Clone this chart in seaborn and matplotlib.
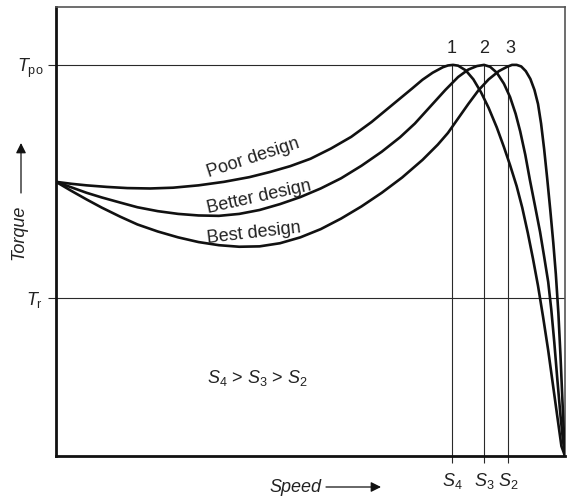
import numpy as np
import pandas as pd
import matplotlib
matplotlib.use("Agg")
import matplotlib.pyplot as plt
import seaborn as sns

# ---------------- data (speed in % of sync speed, torque in % of pull-out torque)
poor_speed = [0, 3, 6, 10, 14, 18.5, 23, 28, 33, 38, 42, 46, 50, 54, 58, 62, 66, 70, 72, 74, 76,
              77, 78, 79, 80.5, 82, 83.5, 85, 86.6, 88, 89.2, 90.5, 91.6, 92.7, 93.7, 94.7, 95.7,
              96.7, 97.6, 98.5, 99.3, 100]
poor_torque = [70.1, 69.6, 69.2, 68.8, 68.5, 68.4, 68.6, 69.2, 70.1, 71.3, 72.6, 74.1, 76.0, 78.6,
               81.6, 85.4, 89.7, 94.0, 96.2, 98.0, 99.4, 99.85, 100, 99.8, 98.6, 96.3, 93.0, 89.0,
               84.0, 79.0, 74.4, 69.0, 63.5, 57.0, 50.5, 43.5, 35.5, 27.0, 18.5, 10.0, 2.5, 0]

better_speed = [0, 3, 6, 9, 12.6, 16, 20, 24, 28, 32, 36, 40, 44, 48, 52, 56, 60, 64, 67.6, 70.5,
                73.5, 76.5, 79, 81, 82.7, 84.1, 85.3, 86.6, 88, 89.2, 90.3, 91.2, 92.2, 93.1, 94.1,
                95.1, 95.9, 96.7, 97.3, 97.9, 98.5, 99.1, 99.6, 100]
better_torque = [70.1, 68.7, 67.3, 66.1, 64.8, 63.6, 62.6, 61.9, 61.5, 61.4, 61.9, 62.9, 64.4, 66.2,
                 68.4, 71.0, 74.2, 77.8, 81.5, 85.0, 89.3, 93.6, 96.9, 98.8, 99.7, 100, 99.5, 98.0,
                 95.2, 91.8, 87.5, 83.0, 77.0, 70.6, 64.0, 57.3, 51.0, 44.5, 37.5, 29.0, 19.5, 10.5,
                 4.0, 0]

best_speed = [0, 3, 6, 9, 12.6, 16, 20, 24, 28, 32, 36, 40, 44, 48, 52, 56, 60, 64, 68, 72, 75,
              77, 79, 81, 83, 85, 87, 88.6, 89.6, 90.5, 91.4, 92.3, 93.2, 94.0, 94.7, 95.3, 95.9,
              96.5, 97.1, 97.7, 98.2, 98.7, 99.1, 99.4, 99.7, 100]
best_torque = [70.1, 67.8, 65.6, 63.5, 61.2, 59.2, 57.4, 55.9, 54.7, 53.9, 53.5, 53.6, 54.4, 55.9,
               58.0, 60.7, 63.8, 67.3, 71.2, 75.7, 79.6, 82.6, 86.3, 90.0, 93.5, 96.3, 98.4, 99.5,
               100, 100, 99.6, 98.4, 96.4, 93.6, 90.0, 85.0, 78.5, 71.0, 63.0, 54.5, 46.5, 36.5,
               26.0, 17.0, 8.0, 0]

curve_names = ["Poor design", "Better design", "Best design"]
curve_numbers = ["1", "2", "3"]

T_po = 100.0
T_r = 40.4
S_values = [77.8, 84.1, 88.8]              # S4, S3, S2
S_labels = [r"$S_4$", r"$S_3$", r"$S_2$"]
T_labels = [r"$T_{\mathrm{po}}$", r"$T_{\mathrm{r}}$"]

# ---------------- style
sns.set_theme(style="white")
plt.rcParams["font.family"] = ["Liberation Sans", "DejaVu Sans"]
plt.rcParams["mathtext.fontset"] = "custom"
plt.rcParams["mathtext.rm"] = "Liberation Sans"
plt.rcParams["mathtext.it"] = "Liberation Sans:italic"
plt.rcParams["mathtext.default"] = "it"

W, H = 571, 498
fig = plt.figure(figsize=(W / 100, H / 100), dpi=100)
ax = fig.add_axes([56 / W, 1 - 456 / H, (565 - 56) / W, (456 - 7) / H])
ax.set_xlim(0, 100)
ax.set_ylim(0, 114.8)

txt_col = "#222222"
thin_col = "#2a2a2a"

# reference lines
ax.axhline(T_r, color=thin_col, lw=0.8, zorder=1)
ax.plot([0, S_values[2]], [T_po, T_po], color=thin_col, lw=0.8, zorder=1)
ax.vlines(S_values, 0, T_po, color=thin_col, lw=0.8, zorder=1)

# curves
df = pd.concat([
    pd.DataFrame({"speed": poor_speed, "torque": poor_torque, "design": curve_names[0]}),
    pd.DataFrame({"speed": better_speed, "torque": better_torque, "design": curve_names[1]}),
    pd.DataFrame({"speed": best_speed, "torque": best_torque, "design": curve_names[2]}),
])
sns.lineplot(data=df, x="speed", y="torque", hue="design", sort=False,
             palette=["#111111"] * 3, lw=1.9, legend=False, ax=ax, zorder=3)
for ln in ax.get_lines():
    ln.set_solid_joinstyle("round")

# curve numbers above vertical lines
num_x = [S_values[0], S_values[1], S_values[2] + 0.5]
for xv, n in zip(num_x, curve_numbers):
    ax.text(xv, 104.3, n, ha="center", va="center", fontsize=13, color=txt_col)

# ticks
ax.set_xticks(S_values)
ax.set_xticklabels(S_labels)
ax.set_yticks([T_po, T_r])
ax.set_yticklabels(T_labels)
ax.tick_params(axis="x", direction="out", length=5, width=0.8, color=thin_col,
               pad=6, labelsize=13, labelcolor=txt_col, bottom=True)
ax.tick_params(axis="y", direction="out", length=6, width=0.8, color=thin_col,
               pad=3, labelsize=13, labelcolor=txt_col, left=True)
ax.set_xlabel("")
ax.set_ylabel("")

# spines
for s in ["left", "bottom"]:
    ax.spines[s].set_color("#111111")
    ax.spines[s].set_linewidth(2.0)
for s in ["top", "right"]:
    ax.spines[s].set_color("#555555")
    ax.spines[s].set_linewidth(1.2)


def F(px, py):
    return (px / W, 1 - py / H)


# curve labels
fig.text(*F(253, 158), "Poor design", rotation=18, ha="center", va="center",
         fontsize=13, color=txt_col, rotation_mode="anchor")
fig.text(*F(259, 197), "Better design", rotation=12.5, ha="center", va="center",
         fontsize=13, color=txt_col, rotation_mode="anchor")
fig.text(*F(254, 233), "Best design", rotation=6.5, ha="center", va="center",
         fontsize=13, color=txt_col, rotation_mode="anchor")
fig.text(*F(257, 378), r"$S_4$ > $S_3$ > $S_2$", ha="center", va="center",
         fontsize=13, color=txt_col)

# axis titles with arrows
fig.text(*F(19, 232), "Torque", rotation=90, ha="center", va="center",
         fontsize=13, style="italic", color=txt_col)
fig.add_artist(matplotlib.patches.FancyArrowPatch(
    F(21, 193), F(21, 143), transform=fig.transFigure, arrowstyle="-|>,head_length=6,head_width=3",
    color="#111111", lw=0.9, shrinkA=0, shrinkB=0))
fig.text(*F(295, 487), "Speed", ha="center", va="center",
         fontsize=13, style="italic", color=txt_col)
fig.add_artist(matplotlib.patches.FancyArrowPatch(
    F(326, 487), F(381, 487), transform=fig.transFigure, arrowstyle="-|>,head_length=6,head_width=3",
    color="#111111", lw=0.9, shrinkA=0, shrinkB=0))

fig.savefig("out.png", dpi=100)
